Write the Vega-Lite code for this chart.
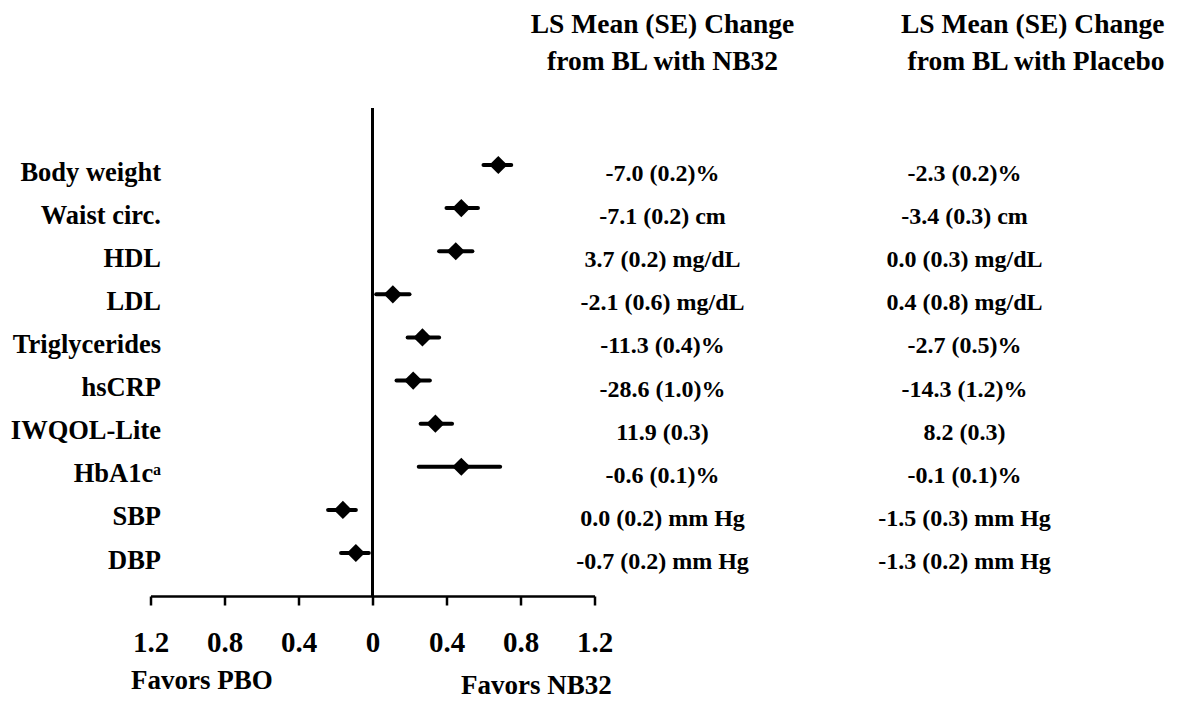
{
  "$schema": "https://vega.github.io/schema/vega-lite/v6.json",
  "background": "white",
  "padding": {"left": 9.5, "top": 10, "right": 5, "bottom": 0},
  "config": {"view": {"stroke": null}, "font": "Liberation Serif"},
  "data": {
    "values": [
      {"measure": "Body weight", "est": 0.68, "lo": 0.60, "hi": 0.75, "nb32": "-7.0 (0.2)%", "pbo": "-2.3 (0.2)%"},
      {"measure": "Waist circ.", "est": 0.48, "lo": 0.40, "hi": 0.57, "nb32": "-7.1 (0.2) cm", "pbo": "-3.4 (0.3) cm"},
      {"measure": "HDL", "est": 0.45, "lo": 0.36, "hi": 0.54, "nb32": "3.7 (0.2) mg/dL", "pbo": "0.0 (0.3) mg/dL"},
      {"measure": "LDL", "est": 0.11, "lo": 0.02, "hi": 0.20, "nb32": "-2.1 (0.6) mg/dL", "pbo": "0.4 (0.8) mg/dL"},
      {"measure": "Triglycerides", "est": 0.27, "lo": 0.19, "hi": 0.36, "nb32": "-11.3 (0.4)%", "pbo": "-2.7 (0.5)%"},
      {"measure": "hsCRP", "est": 0.22, "lo": 0.13, "hi": 0.31, "nb32": "-28.6 (1.0)%", "pbo": "-14.3 (1.2)%"},
      {"measure": "IWQOL-Lite", "est": 0.34, "lo": 0.26, "hi": 0.43, "nb32": "11.9 (0.3)", "pbo": "8.2 (0.3)"},
      {"measure": "HbA1cᵃ", "est": 0.48, "lo": 0.25, "hi": 0.69, "nb32": "-0.6 (0.1)%", "pbo": "-0.1 (0.1)%"},
      {"measure": "SBP", "est": -0.16, "lo": -0.24, "hi": -0.09, "nb32": "0.0 (0.2) mm Hg", "pbo": "-1.5 (0.3) mm Hg"},
      {"measure": "DBP", "est": -0.09, "lo": -0.17, "hi": -0.02, "nb32": "-0.7 (0.2) mm Hg", "pbo": "-1.3 (0.2) mm Hg"}
    ]
  },
  "bounds": "flush",
  "spacing": 10,
  "hconcat": [
    {
      "width": 444,
      "height": 488,
      "resolve": {"axis": {"x": "independent"}},
      "layer": [
        {
          "mark": {"type": "rule", "strokeWidth": 4, "strokeCap": "round", "color": "black"},
          "encoding": {
            "y": {
              "field": "measure", "type": "nominal", "sort": null,
              "scale": {"type": "point", "domain": ["Body weight", "Waist circ.", "HDL", "LDL", "Triglycerides", "hsCRP", "IWQOL-Lite", "HbA1cᵃ", "SBP", "DBP"], "range": [57, 445], "padding": 0},
              "axis": {"title": null, "domain": false, "ticks": false, "tickSize": 0, "grid": false, "labelPadding": 0, "offset": -10, "labelFont": "Liberation Serif", "labelFontWeight": "bold", "labelFontSize": 26.5, "labelColor": "black", "labelOffset": 7, "labelBaseline": "middle", "labelLimit": 400}
            },
            "x": {"field": "lo", "type": "quantitative", "scale": {"domain": [-1.2, 1.2], "nice": false, "zero": false}, "axis": null},
            "x2": {"field": "hi"}
          }
        },
        {
          "mark": {"type": "point", "shape": "diamond", "filled": true, "size": 330, "color": "black", "opacity": 1},
          "encoding": {
            "y": {"field": "measure", "type": "nominal", "sort": null},
            "x": {
              "field": "est", "type": "quantitative",
              "axis": {"orient": "bottom", "values": [-1.2, -0.8, -0.4, 0, 0.4, 0.8, 1.2], "labelExpr": "datum.value == 0 ? '0' : format(abs(datum.value), '.1f')", "grid": false, "domainColor": "black", "domainWidth": 2.5, "tickColor": "black", "tickWidth": 2.5, "tickSize": 9, "labelFont": "Liberation Serif", "labelFontWeight": "bold", "labelFontSize": 29, "labelColor": "black", "labelPadding": 23, "labelFlush": false, "labelOverlap": false, "labelBound": false, "title": "Favors PBO", "titleX": -20, "titleAlign": "left", "titleFont": "Liberation Serif", "titleFontWeight": "bold", "titleFontSize": 27, "titleColor": "black", "titlePadding": 10}
            }
          }
        },
        {
          "mark": {"type": "rule", "strokeWidth": 3, "color": "black"},
          "encoding": {
            "x": {"datum": 0, "type": "quantitative", "axis": {"orient": "bottom", "domain": false, "ticks": false, "labels": false, "grid": false, "title": "Favors NB32", "titleX": 310, "titleAlign": "left", "titleFont": "Liberation Serif", "titleFontWeight": "bold", "titleFontSize": 27, "titleColor": "black", "titlePadding": 76}}
          }
        }
      ]
    },
    {
      "bounds": "flush",
      "spacing": 44,
      "hconcat": [
        {
          "width": 116,
          "height": 488,
          "title": {"text": ["LS Mean (SE) Change", "from BL with NB32"], "anchor": "middle", "font": "Liberation Serif", "fontSize": 27.5, "fontWeight": "bold", "color": "black", "lineHeight": 37, "offset": 11, "baseline": "alphabetic"},
          "mark": {"type": "text", "font": "Liberation Serif", "fontSize": 24, "fontWeight": "bold", "color": "black", "dy": 9, "baseline": "middle", "align": "center"},
          "encoding": {
            "y": {"field": "measure", "type": "nominal", "sort": null, "scale": {"type": "point", "domain": ["Body weight", "Waist circ.", "HDL", "LDL", "Triglycerides", "hsCRP", "IWQOL-Lite", "HbA1cᵃ", "SBP", "DBP"], "range": [57, 445], "padding": 0}, "axis": null},
            "text": {"field": "nb32"}
          }
        },
        {
          "width": 400,
          "height": 488,
          "title": {"text": ["LS Mean (SE) Change", "from BL with Placebo"], "anchor": "end", "font": "Liberation Serif", "fontSize": 27.5, "fontWeight": "bold", "color": "black", "lineHeight": 37, "offset": 11, "baseline": "alphabetic"},
          "mark": {"type": "text", "font": "Liberation Serif", "fontSize": 24, "fontWeight": "bold", "color": "black", "dy": 9, "baseline": "middle", "align": "center"},
          "encoding": {
            "y": {"field": "measure", "type": "nominal", "sort": null, "scale": {"type": "point", "domain": ["Body weight", "Waist circ.", "HDL", "LDL", "Triglycerides", "hsCRP", "IWQOL-Lite", "HbA1cᵃ", "SBP", "DBP"], "range": [57, 445], "padding": 0}, "axis": null},
            "text": {"field": "pbo"}
          }
        }
      ]
    }
  ]
}
